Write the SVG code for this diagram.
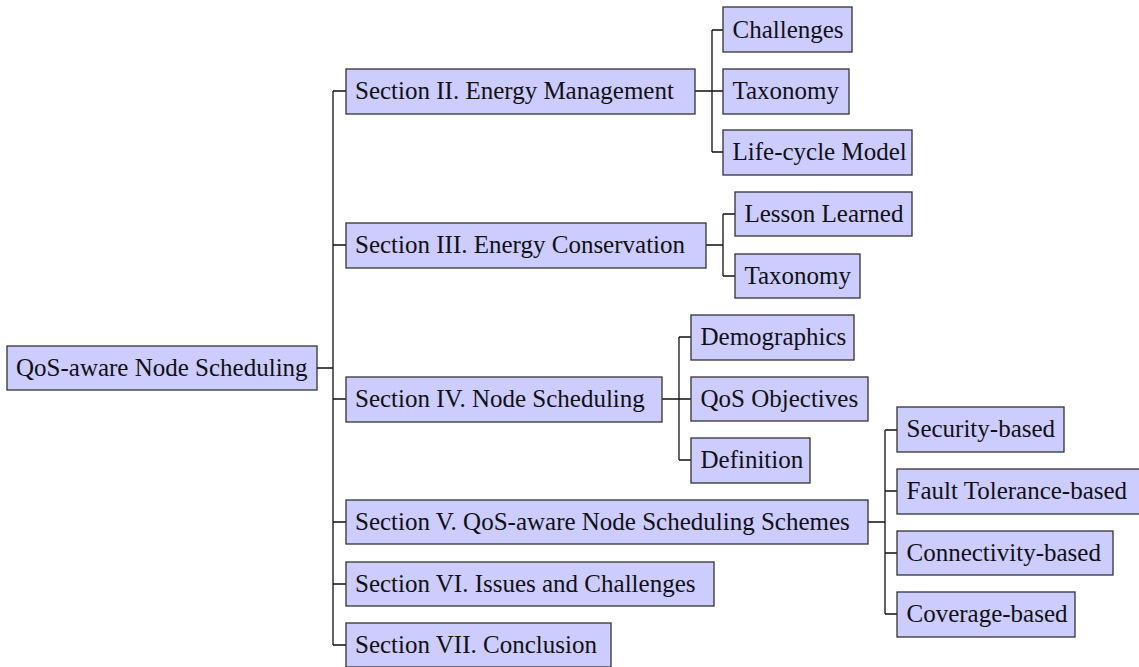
<svg xmlns="http://www.w3.org/2000/svg" width="1139" height="667" viewBox="0 0 1139 667">
  <style>
    .box { fill: #ccccff; stroke: #333333; stroke-width: 1.3; }
    .lbl { font-size: 25px; fill: #111111; }
    .edge { fill: none; stroke: #111111; stroke-width: 1.3; }
  </style>
  <rect width="1139" height="667" fill="#ffffff"/>

  <!-- connectors -->
  <g id="connectors" class="edge">
    <!-- root to sections -->
    <path d="M317 368 H333 M333 91 V645"/>
    <path d="M333 91 H346 M333 245 H346 M333 399 H346 M333 522 H346 M333 584 H346 M333 645 H346"/>
    <!-- Section II -->
    <path d="M695 91 H712 M712 30 V152 M712 30 H723 M712 91 H723 M712 152 H723"/>
    <!-- Section III -->
    <path d="M706 245 H723 M723 214 V276 M723 214 H735 M723 276 H735"/>
    <!-- Section IV -->
    <path d="M662 399 H679 M679 337 V460 M679 337 H691 M679 399 H691 M679 460 H691"/>
    <!-- Section V -->
    <path d="M868 522 H885 M885 430 V614 M885 430 H897 M885 491 H897 M885 553 H897 M885 614 H897"/>
  </g>

  <!-- root -->
  <g id="root">
    <rect class="box" x="7" y="346" width="310" height="44"/>
    <text class="lbl" style="font-family: 'Liberation Serif'" x="16" y="375.5">QoS-aware Node Scheduling</text>
  </g>

  <!-- sections -->
  <g id="sec2">
    <rect class="box" x="346" y="69" width="349" height="45"/>
    <text class="lbl" style="font-family: 'Liberation Serif'" x="355" y="99">Section II. Energy Management</text>
  </g>
  <g id="sec3">
    <rect class="box" x="346" y="223" width="360" height="45"/>
    <text class="lbl" style="font-family: 'Liberation Serif'" x="355" y="253">Section III. Energy Conservation</text>
  </g>
  <g id="sec4">
    <rect class="box" x="346" y="377" width="316" height="45"/>
    <text class="lbl" style="font-family: 'Liberation Serif'" x="355" y="407">Section IV. Node Scheduling</text>
  </g>
  <g id="sec5">
    <rect class="box" x="346" y="500" width="522" height="44"/>
    <text class="lbl" style="font-family: 'Liberation Serif'" x="355" y="529.5">Section V. QoS-aware Node Scheduling Schemes</text>
  </g>
  <g id="sec6">
    <rect class="box" x="346" y="562" width="368" height="44"/>
    <text class="lbl" style="font-family: 'Liberation Serif'" x="355" y="591.5">Section VI. Issues and Challenges</text>
  </g>
  <g id="sec7">
    <rect class="box" x="346" y="623" width="265" height="44"/>
    <text class="lbl" style="font-family: 'Liberation Serif'" x="355" y="652.5">Section VII. Conclusion</text>
  </g>

  <!-- Section II children -->
  <g id="challenges">
    <rect class="box" x="723" y="7" width="129" height="45"/>
    <text class="lbl" style="font-family: 'Liberation Serif'" x="732.5" y="37.5">Challenges</text>
  </g>
  <g id="taxonomy2">
    <rect class="box" x="723" y="69" width="126" height="45"/>
    <text class="lbl" style="font-family: 'Liberation Serif'" x="732.5" y="99">Taxonomy</text>
  </g>
  <g id="lifecycle">
    <rect class="box" x="723" y="130" width="189" height="45"/>
    <text class="lbl" style="font-family: 'Liberation Serif'" x="732.5" y="160">Life-cycle Model</text>
  </g>

  <!-- Section III children -->
  <g id="lesson">
    <rect class="box" x="735" y="192" width="177" height="44"/>
    <text class="lbl" style="font-family: 'Liberation Serif'" x="744.5" y="221.5">Lesson Learned</text>
  </g>
  <g id="taxonomy3">
    <rect class="box" x="735" y="254" width="125" height="44"/>
    <text class="lbl" style="font-family: 'Liberation Serif'" x="744.5" y="283.5">Taxonomy</text>
  </g>

  <!-- Section IV children -->
  <g id="demographics">
    <rect class="box" x="691" y="315" width="163" height="45"/>
    <text class="lbl" style="font-family: 'Liberation Serif'" x="700.5" y="345">Demographics</text>
  </g>
  <g id="qosobj">
    <rect class="box" x="691" y="377" width="177" height="44"/>
    <text class="lbl" style="font-family: 'Liberation Serif'" x="700.5" y="406.5">QoS Objectives</text>
  </g>
  <g id="definition">
    <rect class="box" x="691" y="438" width="119" height="45"/>
    <text class="lbl" style="font-family: 'Liberation Serif'" x="700.5" y="468">Definition</text>
  </g>

  <!-- Section V children -->
  <g id="security">
    <rect class="box" x="897" y="407" width="167" height="45"/>
    <text class="lbl" style="font-family: 'Liberation Serif'" x="906.5" y="437">Security-based</text>
  </g>
  <g id="fault">
    <rect class="box" x="897" y="469" width="243" height="45"/>
    <text class="lbl" style="font-family: 'Liberation Serif'" x="906.5" y="499">Fault Tolerance-based</text>
  </g>
  <g id="connectivity">
    <rect class="box" x="897" y="531" width="216" height="44"/>
    <text class="lbl" style="font-family: 'Liberation Serif'" x="906.5" y="560.5">Connectivity-based</text>
  </g>
  <g id="coverage">
    <rect class="box" x="897" y="592" width="178" height="45"/>
    <text class="lbl" style="font-family: 'Liberation Serif'" x="906.5" y="622">Coverage-based</text>
  </g>
</svg>
